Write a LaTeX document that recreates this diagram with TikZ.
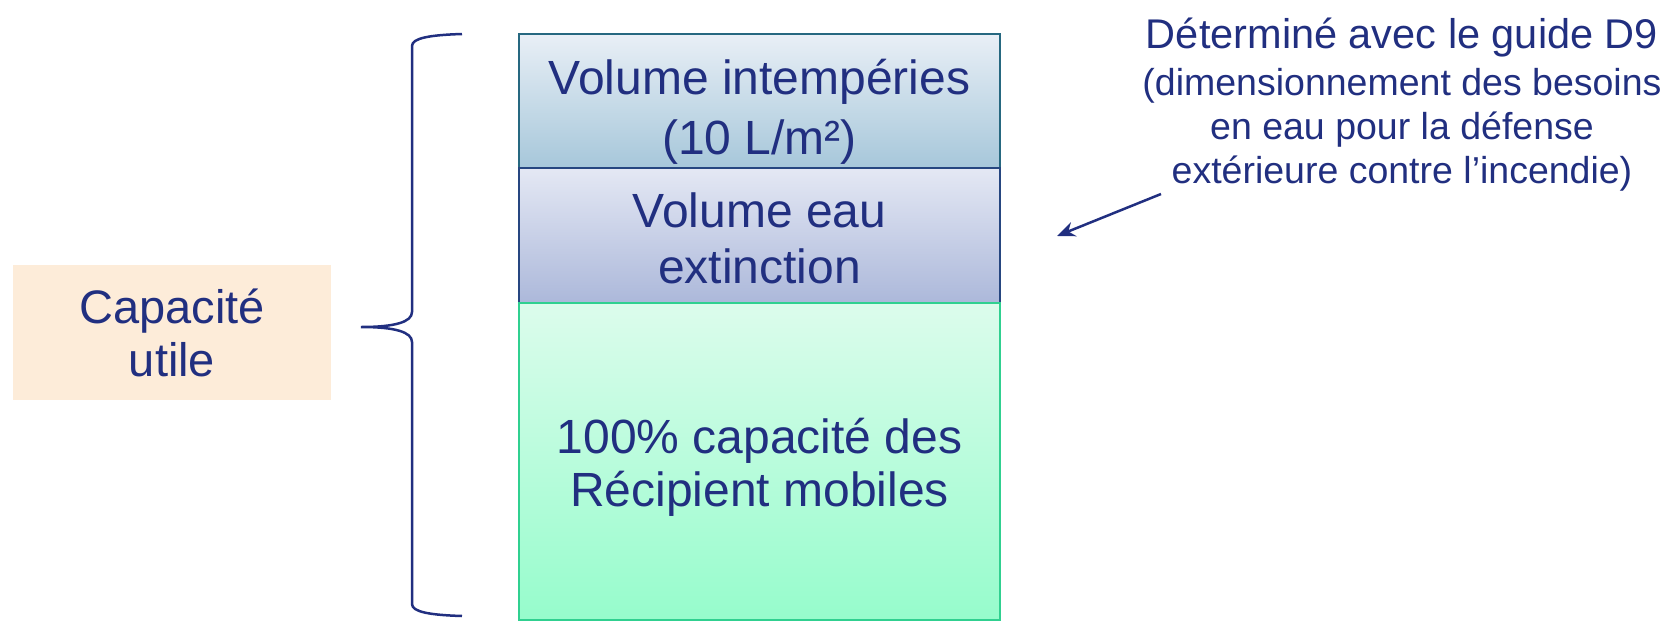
\documentclass[tikz,border=0pt]{standalone}
\usepackage{fontspec}
\setmainfont{Liberation Sans}
\usetikzlibrary{arrows.meta}
\definecolor{navy}{RGB}{33,47,128}
\definecolor{topA}{RGB}{233,239,246}
\definecolor{topB}{RGB}{166,199,218}
\definecolor{topE}{RGB}{38,104,128}
\definecolor{midA}{RGB}{228,232,244}
\definecolor{midB}{RGB}{172,184,218}
\definecolor{midE}{RGB}{38,70,128}
\definecolor{botA}{RGB}{220,252,236}
\definecolor{botB}{RGB}{150,252,204}
\definecolor{botE}{RGB}{48,208,144}
\definecolor{peach}{RGB}{253,236,217}
\tikzset{
  layer/.style={minimum width=481pt, inner sep=0pt, line width=2pt},
  layertext/.style={inner sep=0pt, align=center, text=navy},
}
\begin{document}
\begin{tikzpicture}[x=1pt,y=-1pt]
\useasboundingbox (0,0) rectangle (1665,621);
\node[layer, minimum height=134pt, top color=topA, bottom color=topB, draw=topE] (top) at (759.5,101) {};
\node[layer, minimum height=135pt, top color=midA, bottom color=midB, draw=midE] (mid) at (759.5,235.5) {};
\node[layer, minimum height=317pt, top color=botA, bottom color=botB, draw=botE] (bot) at (759.5,461.5) {};
\node[layertext, font=\fontsize{48}{60}\selectfont] (topt) at (759.5,112) {Volume intempéries\\(10 L/m²)};
\node[layertext, font=\fontsize{48}{56}\selectfont] (midt) at (759.5,238) {Volume eau\\extinction};
\node[layertext, font=\fontsize{48}{53}\selectfont] (bott) at (759.5,467) {100\% capacité des\\Récipient mobiles};
\node[fill=peach, minimum width=318pt, minimum height=135pt, inner sep=0pt, align=center,
  text=navy, font=\fontsize{47}{53}\selectfont] (cap) at (172,332.5) {Capacité\\utile};
\draw[navy, line width=2.5pt] (462,34) .. controls (430,35) and (412,38) .. (412,46) -- (412,312)
  .. controls (412,322) and (395,327) .. (361,327)
  .. controls (395,327) and (412,332) .. (412,342) -- (412,604)
  .. controls (412,612) and (430,615) .. (462,616);
\node[anchor=north, align=center, text=navy, inner sep=0pt, font=\fontsize{37.5}{44}\selectfont] (note) at (1402,18)
  {{\fontsize{41.5}{47}\selectfont Déterminé avec le guide D9}\\[3pt]
   (dimensionnement des besoins\\
   en eau pour la défense\\
   extérieure contre l’incendie)};
\coordinate (as) at (1161,194);
\coordinate (ae) at (1057,236);
\draw[navy, line width=2.5pt, -{Stealth[length=18pt,width=15pt]}] (as) -- (ae);
\end{tikzpicture}
\end{document}
